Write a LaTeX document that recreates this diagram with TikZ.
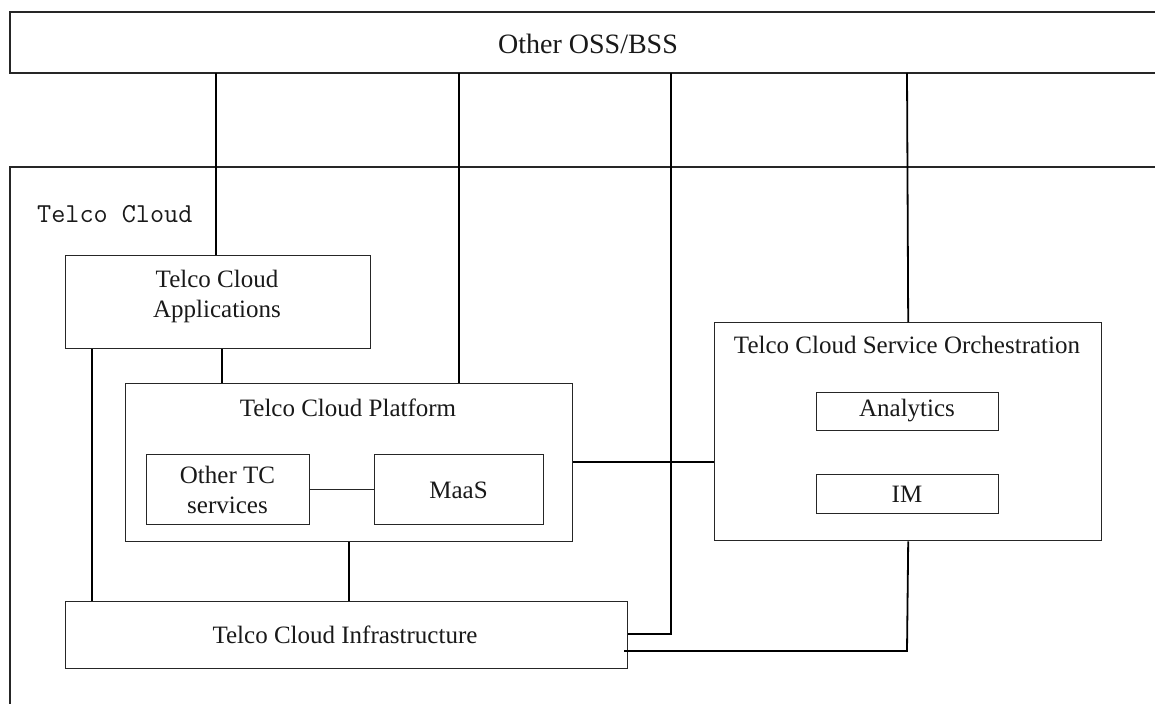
\documentclass[tikz,border=0pt]{standalone}
\usepackage{fontspec}
\setmainfont{Liberation Serif}
\begin{document}
\begin{tikzpicture}[x=1pt,y=-1pt,
  box/.style={draw=black!85,line width=1.4pt,rectangle,inner sep=0pt,anchor=north west},
  txt/.style={font=\fontsize{25}{30}\selectfont,align=center,text=black!90},
  link/.style={draw=black,line width=1.8pt}]
\useasboundingbox (0,0) rectangle (1155,704);
% frames that run off the right and lower edges
\draw[black!85,line width=1.4pt] (1155,12) -- (10,12) -- (10,73) -- (1155,73);
\draw[black!85,line width=1.4pt] (1155,167) -- (10,167) -- (10,704);
\node[font=\fontsize{28}{32}\selectfont,text=black!90] (oss) at (588,44) {Other OSS/BSS};
\node[font=\ttfamily\fontsize{27.4}{30}\selectfont,anchor=west,inner sep=0pt,text=black!90] (tc) at (37,214) {Telco Cloud};
% boxes
\node[box,minimum width=305pt,minimum height=93pt] (apps) at (65,255) {};
\node[txt] (appsl) at (217,296) {Telco Cloud\\Applications};
\node[box,minimum width=447pt,minimum height=158pt] (plat) at (125,383) {};
\node[txt] (platl) at (348,408) {Telco Cloud Platform};
\node[box,minimum width=163pt,minimum height=70pt] (other) at (146,454) {};
\node[txt] (otherl) at (227.5,490) {Other TC\\services};
\node[box,minimum width=169pt,minimum height=70pt] (maas) at (374,454) {};
\node[txt] (maasl) at (458.5,490) {MaaS};
\node[box,minimum width=387pt,minimum height=218pt] (orch) at (714,322) {};
\node[txt] (orchl) at (907,345) {Telco Cloud Service Orchestration};
\node[box,minimum width=182pt,minimum height=38pt] (ana) at (816,392) {};
\node[txt] (anal) at (907,411) {Analytics};
\node[box,minimum width=182pt,minimum height=39pt] (im) at (816,474) {};
\node[txt] (iml) at (907,494) {IM};
\node[box,minimum width=562pt,minimum height=67pt] (infra) at (65,601) {};
\node[txt] (infral) at (345,635) {Telco Cloud Infrastructure};
% connectors
\draw[link] (216,73) -- (apps.north -| 216,0);
\draw[link] (459,73) -- (plat.north -| 459,0);
\draw[link] (907,73) -- (orch.north);
\draw[link] (671,73) -- (671,634) -- (infra.east |- 0,634);
\draw[link] (orch.south) -- (907,651) -- (624,651);
\draw[link] (apps.south -| 92,0) -- (infra.north -| 92,0);
\draw[link] (apps.south -| 222,0) -- (plat.north -| 222,0);
\draw[link] (plat.south) -- (infra.north -| plat.south);
\draw[link] (plat.east |- 0,462) -- (orch.west |- 0,462);
\draw[line width=1.4pt,black!85] (other.east) -- (maas.west);
\end{tikzpicture}
\end{document}
